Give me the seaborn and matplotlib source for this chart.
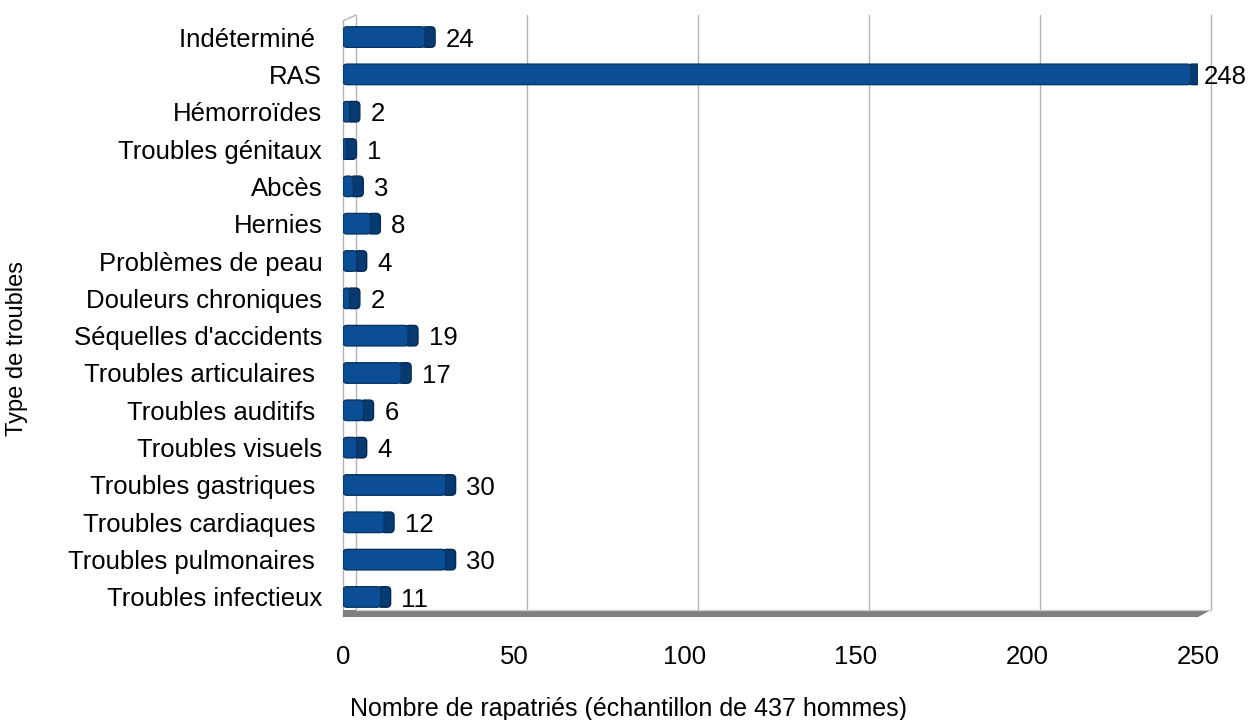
import pandas as pd
import matplotlib
matplotlib.use('Agg')
import matplotlib.pyplot as plt
import seaborn as sns
from matplotlib.patches import Polygon, Rectangle, FancyBboxPatch

# DATA
categories = ['Indéterminé ', 'RAS', 'Hémorroïdes', 'Troubles génitaux', 'Abcès', 'Hernies',
              'Problèmes de peau', 'Douleurs chroniques', "Séquelles d'accidents",
              'Troubles articulaires ', 'Troubles auditifs ', 'Troubles visuels',
              'Troubles gastriques ', 'Troubles cardiaques ', 'Troubles pulmonaires ',
              'Troubles infectieux']
counts = [24, 248, 2, 1, 3, 8, 4, 2, 19, 17, 6, 4, 30, 12, 30, 11]
x_ticks = [0, 50, 100, 150, 200, 250]

df = pd.DataFrame({'trouble': categories, 'n': counts})

sns.set_style('white')
plt.rcParams['font.family'] = ['Liberation Sans', 'DejaVu Sans']
plt.rcParams['text.color'] = 'black'
plt.rcParams['xtick.color'] = 'black'
plt.rcParams['ytick.color'] = 'black'
plt.rcParams['axes.labelcolor'] = 'black'

fig = plt.figure(figsize=(12.57, 7.2), dpi=100)
ax_w, ax_h = 855, 595
ax = fig.add_axes([343 / 1257, (720 - 616) / 720, ax_w / 1257, ax_h / 720])

ylim = (15.51, -0.43)
xpp = x_ticks[-1] / ax_w              # data units per pixel, x
ypp = (ylim[0] - ylim[1]) / ax_h      # data units per pixel, y

sns.barplot(data=df, y='trouble', x='n', orient='h', color='#0c4e96',
            width=0.55, saturation=1, ax=ax, zorder=2)

# give the bars a rounded, extruded look
cap = 10 * xpp
aspect = ypp / xpp
for bar in [p for p in ax.patches if isinstance(p, Rectangle)]:
    x0, y0, w, h = bar.get_x(), bar.get_y(), bar.get_width(), bar.get_height()
    bar.set_visible(False)
    r = min(4 * xpp, w / 2)
    cx0 = max(x0 + w - 3 * xpp, x0)
    ax.add_patch(FancyBboxPatch((cx0, y0), x0 + w + cap - cx0, h,
                                boxstyle=f'round,pad=0,rounding_size={min(4 * xpp, (w + cap) / 2)}',
                                mutation_aspect=aspect, facecolor='#083a72',
                                edgecolor='#052a55', lw=1, zorder=2))
    ax.add_patch(FancyBboxPatch((x0, y0), w, h,
                                boxstyle=f'round,pad=0,rounding_size={r}',
                                mutation_aspect=aspect, facecolor='#0c4e96',
                                edgecolor='#073566', lw=1, zorder=3))

# 3D-ish walls, grid and floor (axes fraction)
dx, dy = 13 / ax_w, 6 / ax_h
grid_col = '#b3b3b3'
for t in x_ticks:
    xf = t / x_ticks[-1] + dx
    ax.plot([xf, xf], [dy, 1 + dy], color=grid_col, lw=1, transform=ax.transAxes,
            clip_on=False, zorder=0)
ax.plot([0, 0], [0, 1], color=grid_col, lw=1, transform=ax.transAxes, clip_on=False, zorder=0)
ax.plot([0, dx], [1, 1 + dy], color=grid_col, lw=1, transform=ax.transAxes, clip_on=False, zorder=0)
ax.plot([0, dx], [0, dy], color=grid_col, lw=1, transform=ax.transAxes, clip_on=False, zorder=0)
floor = Polygon([(0, -1 / ax_h), (1, -1 / ax_h), (1 + dx, dy), (0, dy)], closed=True,
                facecolor='#7f7f7f', edgecolor='none', transform=ax.transAxes,
                clip_on=False, zorder=0.5)
ax.add_patch(floor)
ax.plot([dx, 1 + dx], [dy, dy], color='#c8c8c8', lw=1, transform=ax.transAxes,
        clip_on=False, zorder=0.6)

for i, v in enumerate(counts):
    off = 9 if v == max(counts) else 15
    ax.annotate(str(v), (v, i), xytext=(off, -2), textcoords='offset points',
                va='center', ha='left', fontsize=18.5, color='black')

ax.set_xlim(0, x_ticks[-1])
ax.set_ylim(*ylim)
ax.set_xticks(x_ticks)
ax.tick_params(axis='x', length=0, pad=21, labelsize=18.5)
ax.tick_params(axis='y', length=0, pad=15, labelsize=18.5)
for s in ax.spines.values():
    s.set_visible(False)
ax.set_xlabel('Nombre de rapatriés (échantillon de 437 hommes)', fontsize=18, va='center')
ax.xaxis.set_label_coords((629 - 343) / ax_w, -(709 - 616) / ax_h)
ax.set_ylabel('Type de troubles', fontsize=17)
ax.yaxis.set_label_coords((28 - 343) / ax_w, (616 - 348) / ax_h)

fig.savefig('out.png', dpi=100)
